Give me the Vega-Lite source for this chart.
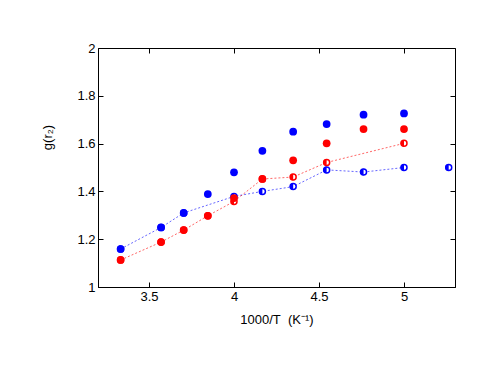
{
  "$schema": "https://vega.github.io/schema/vega-lite/v6.json",
  "width": 357,
  "height": 239,
  "autosize": "none",
  "padding": {"left": 98, "top": 48, "right": 39, "bottom": 95},
  "background": "white",
  "config": {
    "font": "Liberation Sans",
    "view": {"stroke": "black", "strokeWidth": 1},
    "axis": {"grid": false, "domainColor": "black", "tickColor": "black", "labelColor": "black", "titleColor": "black", "labelFontSize": 13, "titleFontSize": 13, "titleFontWeight": "normal", "tickSize": -5, "labelPadding": 8}
  },
  "data": {"values": [
    {"x": 3.333, "y": 1.159, "s": "blue", "k": "half", "line": true},
    {"x": 3.571, "y": 1.249, "s": "blue", "k": "half", "line": true},
    {"x": 3.704, "y": 1.310, "s": "blue", "k": "half", "line": true},
    {"x": 4.0, "y": 1.379, "s": "blue", "k": "half", "line": true},
    {"x": 4.167, "y": 1.400, "s": "blue", "k": "half", "line": true},
    {"x": 4.348, "y": 1.420, "s": "blue", "k": "half", "line": true},
    {"x": 4.545, "y": 1.490, "s": "blue", "k": "half", "line": true},
    {"x": 4.762, "y": 1.481, "s": "blue", "k": "half", "line": true},
    {"x": 5.0, "y": 1.500, "s": "blue", "k": "half", "line": true},
    {"x": 5.263, "y": 1.500, "s": "blue", "k": "half", "line": false},
    {"x": 3.333, "y": 1.113, "s": "red", "k": "half", "line": true},
    {"x": 3.571, "y": 1.188, "s": "red", "k": "half", "line": true},
    {"x": 3.704, "y": 1.238, "s": "red", "k": "half", "line": true},
    {"x": 3.846, "y": 1.298, "s": "red", "k": "half", "line": true},
    {"x": 4.0, "y": 1.358, "s": "red", "k": "half", "line": true},
    {"x": 4.167, "y": 1.452, "s": "red", "k": "half", "line": true},
    {"x": 4.348, "y": 1.460, "s": "red", "k": "half", "line": true},
    {"x": 4.545, "y": 1.521, "s": "red", "k": "half", "line": true},
    {"x": 5.0, "y": 1.601, "s": "red", "k": "half", "line": true},
    {"x": 3.333, "y": 1.159, "s": "blue", "k": "full", "line": false},
    {"x": 3.571, "y": 1.249, "s": "blue", "k": "full", "line": false},
    {"x": 3.704, "y": 1.310, "s": "blue", "k": "full", "line": false},
    {"x": 3.846, "y": 1.389, "s": "blue", "k": "full", "line": false},
    {"x": 4.0, "y": 1.480, "s": "blue", "k": "full", "line": false},
    {"x": 4.167, "y": 1.570, "s": "blue", "k": "full", "line": false},
    {"x": 4.348, "y": 1.650, "s": "blue", "k": "full", "line": false},
    {"x": 4.545, "y": 1.682, "s": "blue", "k": "full", "line": false},
    {"x": 4.762, "y": 1.721, "s": "blue", "k": "full", "line": false},
    {"x": 5.0, "y": 1.726, "s": "blue", "k": "full", "line": false},
    {"x": 3.333, "y": 1.113, "s": "red", "k": "full", "line": false},
    {"x": 3.571, "y": 1.188, "s": "red", "k": "full", "line": false},
    {"x": 3.704, "y": 1.238, "s": "red", "k": "full", "line": false},
    {"x": 3.846, "y": 1.298, "s": "red", "k": "full", "line": false},
    {"x": 4.0, "y": 1.372, "s": "red", "k": "full", "line": false},
    {"x": 4.167, "y": 1.452, "s": "red", "k": "full", "line": false},
    {"x": 4.348, "y": 1.530, "s": "red", "k": "full", "line": false},
    {"x": 4.545, "y": 1.601, "s": "red", "k": "full", "line": false},
    {"x": 4.762, "y": 1.661, "s": "red", "k": "full", "line": false},
    {"x": 5.0, "y": 1.661, "s": "red", "k": "full", "line": false}
  ]},
  "encoding": {
    "color": {"field": "s", "type": "nominal", "scale": {"domain": ["blue", "red"], "range": ["#0000ff", "#ff0000"]}, "legend": null}
  },
  "layer": [
    {"transform": [{"filter": "datum.line"}], "mark": {"type": "line", "strokeWidth": 1, "strokeDash": [2, 2], "opacity": 0.6},
      "encoding": {
        "detail": {"field": "s"},
        "x": {"field": "x", "type": "quantitative", "scale": {"domain": [3.2, 5.3], "nice": false, "zero": false},
          "axis": {"values": [3.5, 4, 4.5, 5], "title": "1000/T\u00a0\u00a0(K⁻¹)", "titlePadding": 10, "format": "~g"}},
        "y": {"field": "y", "type": "quantitative", "scale": {"domain": [1, 2], "nice": false, "zero": false},
          "axis": {"values": [1, 1.2, 1.4, 1.6, 1.8, 2], "title": "g(r₂)", "titleY": 89, "titlePadding": 22, "format": "~g"}}
      }},
    {"transform": [{"filter": "datum.k == 'half'"}], "mark": {"type": "point", "shape": "circle", "size": 36, "filled": false, "fill": "white", "fillOpacity": 1, "strokeWidth": 1.5, "opacity": 1},
      "encoding": {
        "x": {"field": "x", "type": "quantitative", "axis": null},
        "y": {"field": "y", "type": "quantitative", "axis": null}
      }},
    {"transform": [{"filter": "datum.k == 'half'"}], "mark": {"type": "point", "shape": "M0,-1 A1,1 0 0,0 0,1 Z", "size": 46, "filled": true, "opacity": 1},
      "encoding": {
        "x": {"field": "x", "type": "quantitative", "axis": null},
        "y": {"field": "y", "type": "quantitative", "axis": null}
      }},
    {"transform": [{"filter": "datum.k == 'full'"}], "mark": {"type": "point", "shape": "circle", "size": 60, "filled": true, "opacity": 1},
      "encoding": {
        "x": {"field": "x", "type": "quantitative", "axis": {"orient": "top", "values": [3.5, 4, 4.5, 5], "labels": false, "title": null, "domain": false}},
        "y": {"field": "y", "type": "quantitative", "axis": {"orient": "right", "values": [1, 1.2, 1.4, 1.6, 1.8, 2], "labels": false, "title": null, "domain": false}}
      }}
  ],
  "resolve": {"axis": {"x": "independent", "y": "independent"}}
}
